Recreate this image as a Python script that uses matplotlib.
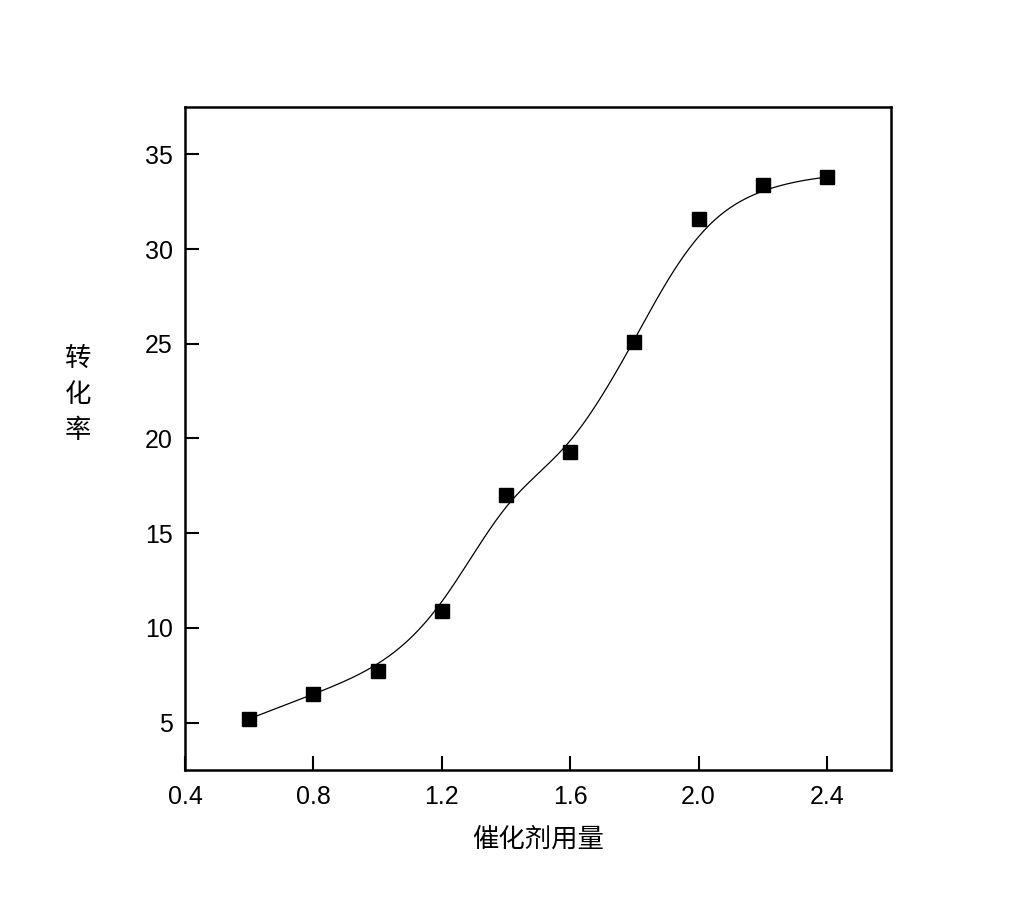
import numpy as np
import matplotlib
matplotlib.use('Agg')
import matplotlib.pyplot as plt

plt.rcParams['font.family'] = ['Liberation Sans Narrow', 'Liberation Sans', 'DejaVu Sans']

# catalyst amount vs conversion
dosage = [0.6, 0.8, 1.0, 1.2, 1.4, 1.6, 1.8, 2.0, 2.2, 2.4]
conversion = [5.2, 6.5, 7.7, 10.9, 17.0, 19.3, 25.1, 31.6, 33.4, 33.8]
xticks = [0.4, 0.8, 1.2, 1.6, 2.0, 2.4]
yticks = [5, 10, 15, 20, 25, 30, 35]


def bspline(px, py, k=3, n=400):
    # clamped uniform B-spline using the points as control points
    px = np.asarray(px, float)
    py = np.asarray(py, float)
    m = len(px)
    inner = np.linspace(0, 1, m - k + 1)
    t = np.concatenate([np.zeros(k), inner, np.ones(k)])
    u = np.linspace(0, 1, n)
    u[-1] = 1 - 1e-12

    def basis(i, p, x):
        if p == 0:
            return ((t[i] <= x) & (x < t[i + 1])).astype(float)
        a = 0.0
        b = 0.0
        if t[i + p] != t[i]:
            a = (x - t[i]) / (t[i + p] - t[i]) * basis(i, p - 1, x)
        if t[i + p + 1] != t[i + 1]:
            b = (t[i + p + 1] - x) / (t[i + p + 1] - t[i + 1]) * basis(i + 1, p - 1, x)
        return a + b

    B = np.array([basis(i, k, u) for i in range(m)])
    return B.T @ px, B.T @ py


cx, cy = bspline(dosage, conversion)

fig = plt.figure(figsize=(10.36, 9.24), dpi=100)
ax = fig.add_axes([0.1786, 0.1667, 0.6815, 0.7175])

ax.plot(cx, cy, color='black', lw=0.9)
ax.plot(dosage, conversion, 's', color='black', ms=10)

ax.set_xlim(0.4, 2.6)
ax.set_ylim(2.5, 37.5)
ax.set_xticks(xticks)
ax.set_xticklabels(['%.1f' % v for v in xticks])
ax.set_yticks(yticks)

ax.tick_params(direction='in', length=10, width=1.5, labelsize=18)
ax.tick_params(axis='x', pad=11)
ax.tick_params(axis='y', pad=9)
for s in ax.spines.values():
    s.set_linewidth(1.8)

cjk = ['Noto Sans CJK SC', 'DejaVu Sans']
ax.set_xlabel('催化剂用量', family=cjk, fontsize=19, fontweight='light', labelpad=12)
fig.text(0.075, 0.573, '转\n化\n率', family=cjk, fontsize=19, fontweight='light',
         ha='center', va='center', linespacing=1.45)

fig.savefig('out.png', dpi=100)
